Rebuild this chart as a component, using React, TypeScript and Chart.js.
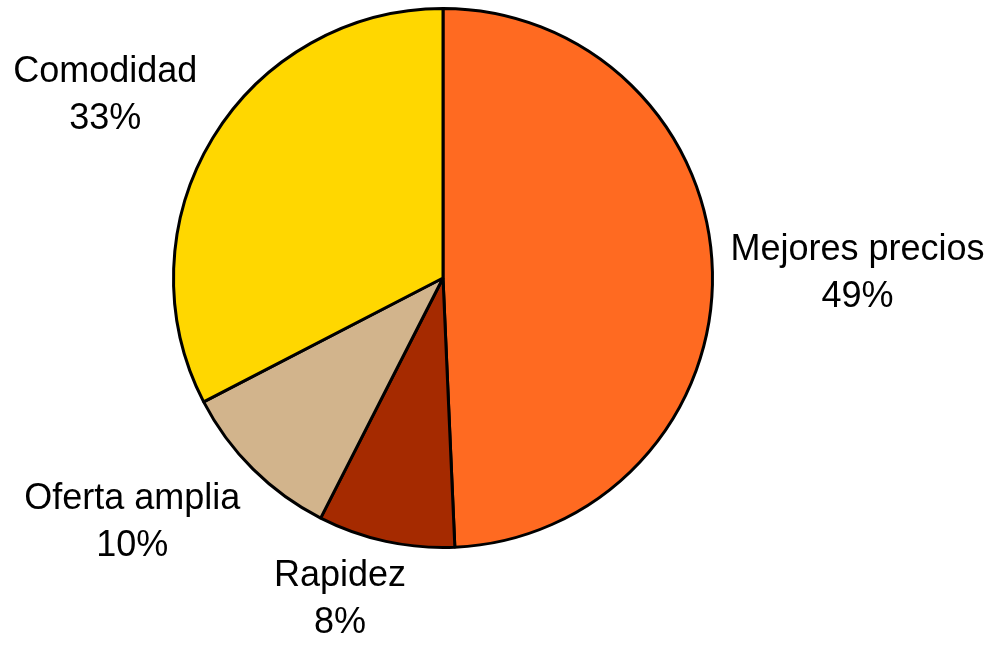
import React, { useEffect, useRef } from "react";
import { Chart, registerables } from "chart.js";

Chart.register(...registerables);

const categories = ["Mejores precios", "Rapidez", "Oferta amplia", "Comodidad"];
const shares = [49.3, 8.2, 9.9, 32.6];
const percentLabels = ["49%", "8%", "10%", "33%"];
const sliceColors = ["#FF6A21", "#A52A00", "#D2B48C", "#FFD700"];

const FONT = '36px "Liberation Sans", Arial, sans-serif';
const LINE_H = 47;

const clamp = (v: number) => Math.max(-1, Math.min(1, v));

const outsideLabels = {
  id: "outsideLabels",
  afterDraw(chart: any) {
    const ctx = chart.ctx;
    const meta = chart.getDatasetMeta(0);
    ctx.save();
    ctx.font = FONT;
    ctx.fillStyle = "#000";
    ctx.textAlign = "center";
    ctx.textBaseline = "middle";
    meta.data.forEach((arc: any, i: number) => {
      const { x, y, startAngle, endAngle, outerRadius } = arc.getProps(
        ["x", "y", "startAngle", "endAngle", "outerRadius"],
        true
      );
      const mid = (startAngle + endAngle) / 2;
      const dx = Math.cos(mid);
      const dy = Math.sin(mid);
      const lines = [categories[i], percentLabels[i]];
      const w = Math.max(...lines.map((l) => ctx.measureText(l).width));
      const h = LINE_H + 27;
      const gap = 18;
      const ax = x + dx * (outerRadius + gap);
      const ay = y + dy * (outerRadius + gap);
      const cx = ax + (clamp(dx * 3) * w) / 2;
      const cy = ay + (clamp(dy * 3) * h) / 2 + 4;
      ctx.fillText(lines[0], cx, cy - LINE_H / 2);
      ctx.fillText(lines[1], cx, cy + LINE_H / 2);
    });
    ctx.restore();
  },
};

export default function App() {
  const ref = useRef<HTMLCanvasElement | null>(null);
  useEffect(() => {
    if (!ref.current) return;
    const chart = new Chart(ref.current, {
      type: "pie",
      data: {
        labels: categories,
        datasets: [
          {
            data: shares,
            backgroundColor: sliceColors,
            borderColor: "#000",
            borderWidth: 3,
            hoverBorderWidth: 3,
          },
        ],
      },
      options: {
        animation: false,
        responsive: false,
        maintainAspectRatio: false,
        layout: { padding: { left: 172, right: 276, top: 7, bottom: 96 } },
        plugins: {
          legend: { display: false },
          tooltip: { enabled: false },
        },
      },
      plugins: [outsideLabels],
    });
    return () => chart.destroy();
  }, []);
  return (
    <div style={{ position: "fixed", left: 0, top: 0, width: 990, height: 645, background: "#fff" }}>
      <canvas ref={ref} width={990} height={645} style={{ width: 990, height: 645 }} />
    </div>
  );
}
